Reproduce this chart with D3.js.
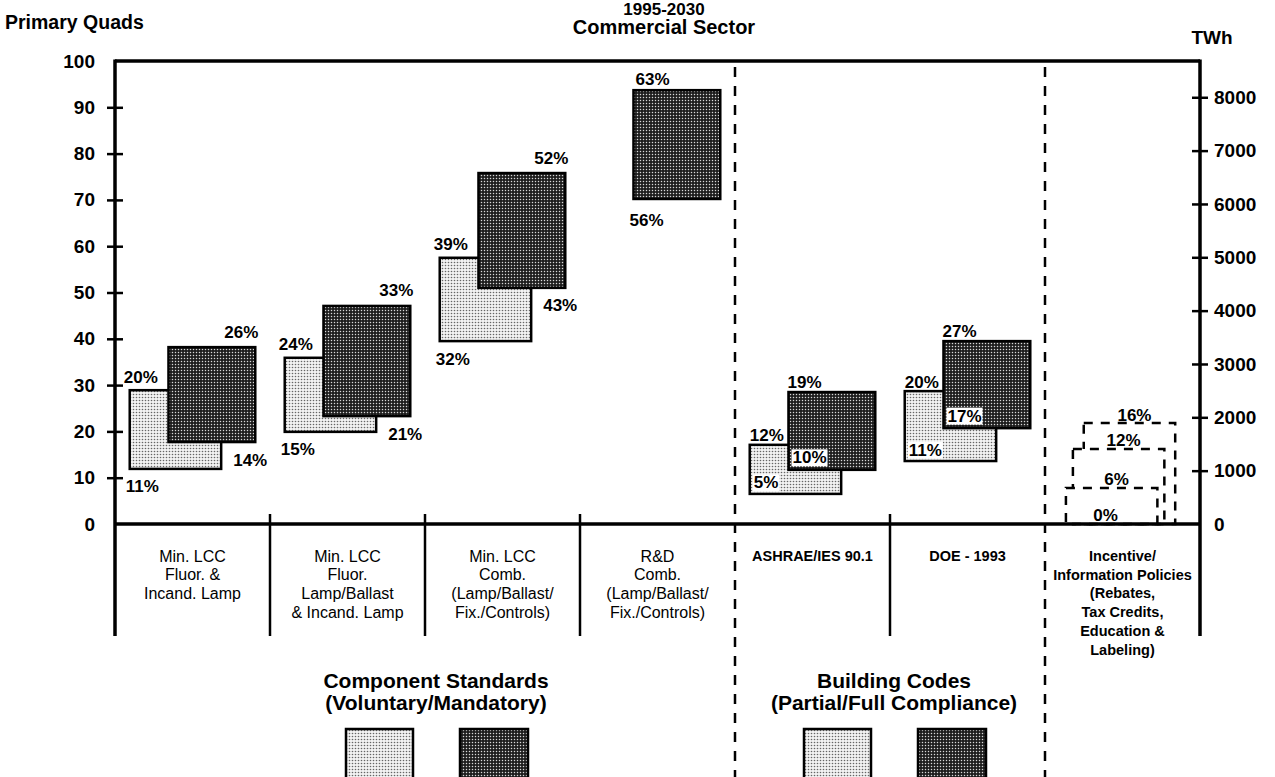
<!DOCTYPE html>
<html>
<head>
<meta charset="utf-8">
<script src="https://cdn.jsdelivr.net/npm/d3@7"></script>
<style>
    body { margin: 0; padding: 0; background: #fff; }
    svg { display: block; font-family: "Liberation Sans", Arial, sans-serif; }
</style>
</head>
<body>
<script>
const width = 1275;
const height = 777;

// column labels, one entry per line
const categories = [
    ['Min. LCC', 'Fluor. &', 'Incand. Lamp'],
    ['Min. LCC', 'Fluor.', 'Lamp/Ballast', '& Incand. Lamp'],
    ['Min. LCC', 'Comb.', '(Lamp/Ballast/', 'Fix./Controls)'],
    ['R&D', 'Comb.', '(Lamp/Ballast/', 'Fix./Controls)'],
    ['ASHRAE/IES 90.1'],
    ['DOE - 1993'],
    ['Incentive/', 'Information Policies', '(Rebates,', 'Tax Credits,', 'Education &', 'Labeling)']
];
const groupType = ['component', 'component', 'component', 'rd', 'code', 'code', 'policy'];

// primary quads, [low, high]
const lightRange = [[11.9, 28.9], [19.9, 35.9], [39.5, 57.5], null, [6.5, 17.1], [13.6, 28.7], null];
const darkRange  = [[17.7, 38.2], [23.3, 47.1], [51.0, 75.8], [70.2, 93.7], [11.7, 28.5], [20.7, 39.5], null];
const lightPct = [['11%', '20%'], ['15%', '24%'], ['32%', '39%'], null, ['5%', '12%'], ['11%', '20%'], null];
const darkPct  = [['14%', '26%'], ['21%', '33%'], ['43%', '52%'], ['56%', '63%'], ['10%', '19%'], ['17%', '27%'], null];

// incentive / information policies (dashed, from 0 up)
const policyTop = [21.8, 16.2, 7.8];
const policyPct = ['16%', '12%', '6%'];
const policyBasePct = '0%';

const quadTicks = d3.range(0, 101, 10);
const twhTicks = d3.range(0, 8001, 1000);
const twhPerQuad = 86.8;

const legendGroups = [
    { title: ['Component Standards', '(Voluntary/Mandatory)'], cx: 436 },
    { title: ['Building Codes', '(Partial/Full Compliance)'], cx: 894 }
];

const plotLeft = 115, plotRight = 1200, plotTop = 61, axisBottom = 636;

const svg = d3.create('svg')
    .attr('viewBox', [0, 0, width, height])
    .attr('width', width)
    .attr('height', height);
document.body.appendChild(svg.node());

const x = d3.scaleBand().domain(d3.range(categories.length)).range([plotLeft, plotRight]);
const y = d3.scaleLinear().domain([0, 100]).range([524, plotTop]);
const y2 = d3.scaleLinear().domain([0, 100 * twhPerQuad]).range([524, plotTop]);
const bw = x.bandwidth();

// dot screens
const defs = svg.append('defs');
const light = defs.append('pattern').attr('id', 'lightDots')
    .attr('width', 3).attr('height', 3).attr('patternUnits', 'userSpaceOnUse');
light.append('rect').attr('width', 3).attr('height', 3).attr('fill', '#f2f2f2');
light.append('circle').attr('cx', 1.5).attr('cy', 1.5).attr('r', 0.8).attr('fill', '#666');
const dark = defs.append('pattern').attr('id', 'darkDots')
    .attr('width', 3).attr('height', 3).attr('patternUnits', 'userSpaceOnUse');
dark.append('rect').attr('width', 3).attr('height', 3).attr('fill', '#1e1e1e');
dark.append('circle').attr('cx', 1.5).attr('cy', 1.5).attr('r', 0.75).attr('fill', '#d8d8d8');

// titles
svg.append('text').attr('x', 664).attr('y', 9).attr('text-anchor', 'middle')
    .attr('dominant-baseline', 'central').attr('font-size', 17).attr('font-weight', 'bold')
    .text('1995-2030');
svg.append('text').attr('x', 664).attr('y', 27).attr('text-anchor', 'middle')
    .attr('dominant-baseline', 'central').attr('font-size', 20).attr('font-weight', 'bold')
    .text('Commercial Sector');
svg.append('text').attr('x', 5).attr('y', 22)
    .attr('dominant-baseline', 'central').attr('font-size', 19.5).attr('font-weight', 'bold')
    .text('Primary Quads');
svg.append('text').attr('x', plotRight + 12).attr('y', 37).attr('text-anchor', 'middle')
    .attr('dominant-baseline', 'central').attr('font-size', 19).attr('font-weight', 'bold')
    .text('TWh');

// bars
const lx = i => x(i) + bw * 0.095, lw = bw * 0.59;
const dx = i => x(i) + bw * 0.345, dw = bw * 0.56;

const bars = svg.append('g');
bars.selectAll('rect.light')
    .data(d3.range(categories.length).filter(i => lightRange[i]))
    .join('rect')
        .attr('class', 'light')
        .attr('x', i => lx(i))
        .attr('width', lw)
        .attr('y', i => y(lightRange[i][1]))
        .attr('height', i => y(lightRange[i][0]) - y(lightRange[i][1]))
        .attr('fill', 'url(#lightDots)')
        .attr('stroke', '#000').attr('stroke-width', 2.5);
bars.selectAll('rect.dark')
    .data(d3.range(categories.length).filter(i => darkRange[i]))
    .join('rect')
        .attr('class', 'dark')
        .attr('x', i => dx(i))
        .attr('width', dw)
        .attr('y', i => y(darkRange[i][1]))
        .attr('height', i => y(darkRange[i][0]) - y(darkRange[i][1]))
        .attr('fill', 'url(#darkDots)')
        .attr('stroke', '#000').attr('stroke-width', 2.5);

// policy outlines, back to front
const pi = categories.length - 1;
const policyOffset = [0.25, 0.18, 0.135];
bars.selectAll('rect.policy')
    .data(policyTop)
    .join('rect')
        .attr('class', 'policy')
        .attr('x', (d, k) => x(pi) + bw * policyOffset[k])
        .attr('width', lw)
        .attr('y', d => y(d))
        .attr('height', d => y(0) - y(d))
        .attr('fill', '#fff')
        .attr('stroke', '#000').attr('stroke-width', 2.5)
        .attr('stroke-dasharray', '9,8');

// percentage labels
const labels = [];
d3.range(categories.length).forEach(i => {
    const t = groupType[i];
    const L = lightRange[i], D = darkRange[i];
    if (t === 'component') {
        labels.push({ x: lx(i) - 6, y: y(L[1]) - 13, a: 'start', s: lightPct[i][1] });
        labels.push({ x: lx(i) - 4, y: y(L[0]) + 18, a: 'start', s: lightPct[i][0] });
        labels.push({ x: dx(i) + dw + 3, y: y(D[1]) - 15, a: 'end', s: darkPct[i][1] });
        labels.push({ x: lx(i) + lw + 12, y: y(D[0]) + 18, a: 'start', s: darkPct[i][0] });
    } else if (t === 'rd') {
        labels.push({ x: dx(i) + 2, y: y(D[1]) - 11, a: 'start', s: darkPct[i][1] });
        labels.push({ x: dx(i) - 4, y: y(D[0]) + 22, a: 'start', s: darkPct[i][0] });
    } else if (t === 'code') {
        labels.push({ x: lx(i), y: y(L[1]) - 9, a: 'start', s: lightPct[i][1] });
        labels.push({ x: dx(i) - 1, y: y(D[1]) - 10, a: 'start', s: darkPct[i][1] });
        labels.push({ x: lx(i) + 4, y: y(L[0]) - 11, a: 'start', s: lightPct[i][0], bg: true });
        labels.push({ x: dx(i) + 4, y: y(D[0]) - 12, a: 'start', s: darkPct[i][0], bg: true });
    } else {
        policyTop.forEach((v, k) => {
            labels.push({ x: x(i) + bw * policyOffset[k] + lw / 2 + 5, y: y(v) - 8, a: 'middle', s: policyPct[k] });
        });
        labels.push({ x: x(i) + bw * policyOffset[2] + lw / 2 - 6, y: y(0) - 9, a: 'middle', s: policyBasePct });
    }
});

const lab = svg.append('g').attr('font-size', 17).attr('font-weight', 'bold');
labels.forEach(d => {
    const g = lab.append('g');
    const t = g.append('text')
        .attr('x', d.x).attr('y', d.y)
        .attr('text-anchor', d.a)
        .attr('dominant-baseline', 'central')
        .text(d.s);
    if (d.bg) {
        const b = t.node().getBBox();
        g.insert('rect', 'text')
            .attr('x', b.x - 1).attr('y', b.y + 1)
            .attr('width', b.width + 2).attr('height', b.height - 2)
            .attr('fill', '#fff');
    }
});

// frame
const frame = svg.append('g').attr('stroke', '#000').attr('fill', 'none');
frame.append('line').attr('x1', plotLeft).attr('x2', plotRight).attr('y1', plotTop).attr('y2', plotTop).attr('stroke-width', 3.5);
frame.append('line').attr('x1', plotLeft).attr('x2', plotRight).attr('y1', y(0)).attr('y2', y(0)).attr('stroke-width', 3.5);
frame.append('line').attr('x1', plotLeft).attr('x2', plotLeft).attr('y1', plotTop - 1.5).attr('y2', axisBottom).attr('stroke-width', 3.5);
frame.append('line').attr('x1', plotRight).attr('x2', plotRight).attr('y1', plotTop - 1.5).attr('y2', axisBottom).attr('stroke-width', 3.5);

// solid column dividers
[1, 2, 3, 5].forEach(i => {
    frame.append('line').attr('x1', x(i)).attr('x2', x(i))
        .attr('y1', y(0) - 10).attr('y2', axisBottom).attr('stroke-width', 2.5);
});
// dashed group dividers
[4, 6].forEach(i => {
    frame.append('line').attr('x1', x(i)).attr('x2', x(i))
        .attr('y1', plotTop + 6).attr('y2', height).attr('stroke-width', 2.5)
        .attr('stroke-dasharray', '10,9');
});

// axes
const axL = svg.append('g').attr('transform', `translate(${plotLeft},0)`)
    .call(d3.axisLeft(y).tickValues(quadTicks).tickSize(8).tickPadding(12));
const axR = svg.append('g').attr('transform', `translate(${plotRight},0)`)
    .call(d3.axisRight(y2).tickValues(twhTicks).tickFormat(d3.format('d')).tickSize(8).tickPadding(6));
[axL, axR].forEach(ax => {
    ax.select('.domain').remove();
    ax.selectAll('.tick line').attr('stroke', '#000').attr('stroke-width', 2.5);
    ax.selectAll('.tick text')
        .attr('font-family', '"Liberation Sans", Arial, sans-serif')
        .attr('font-size', 19).attr('font-weight', 'bold').attr('fill', '#000');
});
axL.selectAll('.tick line').attr('x1', 8);
axR.selectAll('.tick line').attr('x1', -8);
axL.selectAll('.tick').filter(d => d === 0 || d === 100).select('line').remove();
axR.selectAll('.tick').filter(d => d === 0).select('line').remove();

// column labels
const cat = svg.append('g');
categories.forEach((lines, i) => {
    const bold = groupType[i] === 'code' || groupType[i] === 'policy';
    lines.forEach((s, k) => {
        cat.append('text')
            .attr('x', x(i) + bw / 2)
            .attr('y', 556 + k * 18.7)
            .attr('text-anchor', 'middle')
            .attr('dominant-baseline', 'central')
            .attr('font-size', bold ? 14.5 : 16)
            .attr('font-weight', bold ? 'bold' : 'normal')
            .text(s);
    });
});

// legend
const leg = svg.append('g');
legendGroups.forEach(g => {
    g.title.forEach((s, k) => {
        leg.append('text').attr('x', g.cx).attr('y', 680 + k * 22)
            .attr('text-anchor', 'middle').attr('dominant-baseline', 'central')
            .attr('font-size', 21).attr('font-weight', 'bold')
            .text(s);
    });
    leg.append('rect').attr('x', g.cx - 90).attr('y', 729).attr('width', 67).attr('height', 60)
        .attr('fill', 'url(#lightDots)').attr('stroke', '#000').attr('stroke-width', 2.5);
    leg.append('rect').attr('x', g.cx + 24).attr('y', 729).attr('width', 68).attr('height', 60)
        .attr('fill', 'url(#darkDots)').attr('stroke', '#000').attr('stroke-width', 2.5);
});
</script>
</body>
</html>
